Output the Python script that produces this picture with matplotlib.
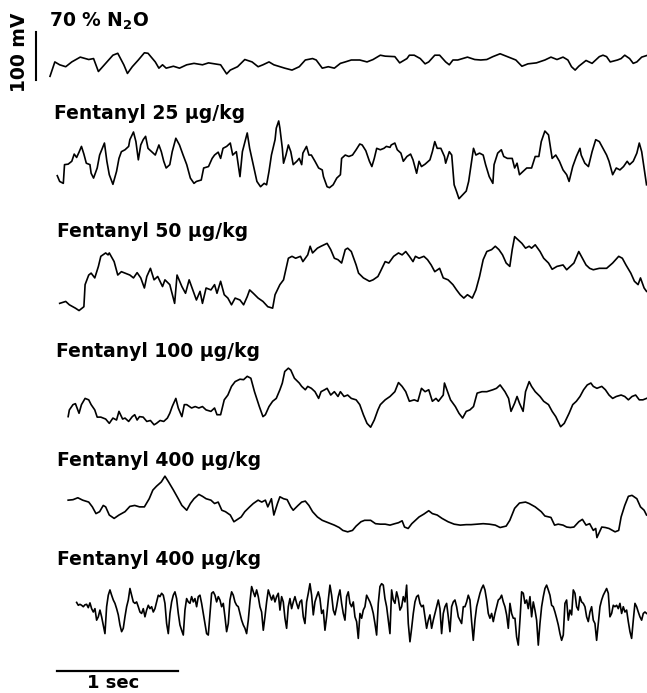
import numpy as np
import matplotlib
matplotlib.use("Agg")
import matplotlib.pyplot as plt

plt.rcParams['font.family'] = 'DejaVu Sans'
plt.rcParams['mathtext.fontset'] = 'dejavusans'

# EEG traces: time in sec, deflection in mV
t_n2o = [0.00, 0.04, 0.08, 0.13, 0.18, 0.25, 0.32, 0.36, 0.40, 0.46,
         0.52, 0.56, 0.61, 0.64, 0.68, 0.73, 0.78, 0.81, 0.87, 0.90,
         0.93, 0.96, 1.02, 1.07, 1.13, 1.19, 1.26, 1.31, 1.36, 1.41,
         1.46, 1.49, 1.55, 1.61, 1.67, 1.72, 1.76, 1.81, 1.85, 1.94,
         2.00, 2.06, 2.11, 2.17, 2.20, 2.25, 2.30, 2.35, 2.40, 2.44,
         2.49, 2.56, 2.62, 2.67, 2.73, 2.77, 2.85, 2.89, 2.95, 2.97,
         3.01, 3.06, 3.10, 3.13, 3.18, 3.22, 3.27, 3.30, 3.33, 3.37,
         3.41, 3.45, 3.51, 3.56, 3.61, 3.66, 3.72, 3.78, 3.85, 3.90,
         3.95, 4.02, 4.09, 4.14, 4.19, 4.24, 4.28, 4.31, 4.34, 4.37,
         4.43, 4.48, 4.54, 4.57, 4.60, 4.63, 4.69, 4.72, 4.75, 4.79,
         4.82, 4.85, 4.89, 4.94]
v_n2o = [-27, 3, -3, -7, 3, 13, 8, 10, -17, 0,
         17, 21, -3, -21, -7, 7, 22, 21, 3, -10,
         -3, -10, -6, -10, -3, 0, -3, 1, -1, -3,
         -22, -14, -7, 8, 3, -7, -3, 3, -3, -10,
         -14, -7, 7, 10, 7, -10, -7, -10, 0, 3,
         7, 7, 3, 8, 17, 15, 14, 1, 10, 17,
         17, 10, -1, 3, 17, 17, 3, -3, 7, 7,
         10, 13, 8, 7, 8, 14, 20, 14, 7, -6,
         -1, 1, 7, 13, 8, 13, 7, -7, -14, -6,
         6, 0, 14, 17, 14, 3, 7, 10, 17, 10,
         0, 3, 13, 17]

t_25 = [0.06, 0.08, 0.11, 0.12, 0.15, 0.18, 0.20, 0.22, 0.24, 0.26,
        0.28, 0.30, 0.33, 0.34, 0.36, 0.39, 0.41, 0.45, 0.47, 0.49,
        0.52, 0.55, 0.57, 0.59, 0.62, 0.65, 0.66, 0.69, 0.71, 0.73,
        0.75, 0.77, 0.79, 0.81, 0.84, 0.87, 0.90, 0.92, 0.94, 0.96,
        0.99, 1.01, 1.04, 1.07, 1.10, 1.13, 1.16, 1.19, 1.21, 1.25,
        1.27, 1.31, 1.34, 1.36, 1.39, 1.41, 1.43, 1.46, 1.49, 1.51,
        1.54, 1.57, 1.59, 1.63, 1.65, 1.68, 1.71, 1.74, 1.77, 1.79,
        1.81, 1.83, 1.86, 1.87, 1.89, 1.90, 1.92, 1.93, 1.95, 1.97,
        1.99, 2.01, 2.04, 2.06, 2.08, 2.09, 2.12, 2.14, 2.16, 2.19,
        2.22, 2.25, 2.26, 2.29, 2.31, 2.34, 2.37,
        2.40, 2.41, 2.44, 2.47, 2.50, 2.53, 2.56, 2.58, 2.61, 2.64,
        2.66, 2.68, 2.70, 2.73, 2.76, 2.78, 2.81, 2.82, 2.85, 2.87,
        2.90, 2.92, 2.95, 2.98, 3.00, 3.03, 3.05, 3.07, 3.10, 3.14,
        3.16, 3.18, 3.20, 3.23, 3.26, 3.27, 3.30, 3.32, 3.34, 3.36,
        3.38, 3.41, 3.44, 3.46, 3.48, 3.50, 3.52, 3.55, 3.58, 3.60,
        3.63, 3.66, 3.67, 3.70, 3.73, 3.75, 3.78, 3.82, 3.84, 3.86,
        3.88, 3.91, 3.94, 3.98, 4.01, 4.04, 4.06, 4.09, 4.12, 4.15,
        4.18, 4.21, 4.24, 4.27, 4.29, 4.32, 4.35, 4.38, 4.39, 4.42,
        4.45, 4.48, 4.51, 4.54, 4.57, 4.60, 4.62, 4.65, 4.68, 4.71,
        4.74, 4.77, 4.79, 4.82, 4.85, 4.87, 4.89, 4.91, 4.93]
v_25 = [-33, -45, -49, -10, -9, -3, 12, 5, 16, 28,
        12, -7, -10, -28, -38, -17, 10, 35, -3, -31,
        -51, -24, 3, 17, 21, 28, 42, 58, 38, 0,
        31, 42, 49, 24, 17, 10, 31, 17, -3, -17,
        -10, 17, 45, 31, 10, -10, -38, -49, -45, -42,
        -17, -14, 3, 10, 16, 3, 24, 28, 35, 10,
        17, -35, 17, 56, 24, -10, -45, -56, -49, -52,
        -24, 10, 42, 66, 81, 66, 24, -7, 10, 31,
        17, -10, -3, 3, -10, 14, 28, 10, 10, -3,
        -17, -21, -35, -56, -58, -52, -38,
        -31, 3, 10, 7, 10, 21, 33, 31, 19, -3,
        -14, 3, 24, 21, 24, 28, 26, 31, 35, 21,
        14, -3, 7, 12, 0, -28, -3, -14, -9, 0,
        17, 38, 24, 24, 7, -7, 17, 10, -52, -66,
        -81, -73, -65, -45, -10, 24, 10, 14, 10, -10,
        -35, -49, -10, 14, 21, 7, 3, 3, -17, -7,
        -31, -24, -17, -17, 7, 7, 38, 60, 52, 3,
        10, -3, -21, -31, -45, -14, 7, 24, 10, -7,
        -14, 17, 42, 38, 24, 10, -3, -31, -17, -21,
        -14, -3, -10, -3, 14, 35, 17, -17, -52]

t_50 = [0.08, 0.13, 0.16, 0.21, 0.24, 0.28, 0.29, 0.32, 0.34, 0.37,
        0.40, 0.42, 0.46, 0.48, 0.49, 0.53, 0.56, 0.59, 0.62, 0.66,
        0.69, 0.72, 0.75, 0.78, 0.80, 0.83, 0.86, 0.89, 0.93, 0.95,
        0.99, 1.03, 1.05, 1.09, 1.12, 1.15, 1.18, 1.21, 1.24, 1.26,
        1.29, 1.33, 1.36, 1.38, 1.41, 1.44, 1.47, 1.50, 1.53, 1.57,
        1.60, 1.63, 1.65, 1.68, 1.72, 1.76, 1.80, 1.84, 1.86, 1.90,
        1.93, 1.97, 2.00, 2.03, 2.07, 2.09, 2.13, 2.15, 2.17, 2.21,
        2.24, 2.29, 2.32, 2.35, 2.38, 2.41, 2.44, 2.46, 2.49, 2.53,
        2.55, 2.59, 2.64, 2.67, 2.71, 2.73, 2.77, 2.80, 2.84, 2.88,
        2.91, 2.94, 2.97, 3.00, 3.02, 3.05, 3.09, 3.12, 3.15, 3.18,
        3.22, 3.25, 3.29, 3.33, 3.36, 3.39, 3.42, 3.45, 3.49, 3.52,
        3.55, 3.58, 3.61, 3.65, 3.68, 3.71, 3.74, 3.77, 3.80, 3.82,
        3.84, 3.87, 3.90, 3.93, 3.96, 3.98, 4.01, 4.05, 4.08, 4.12,
        4.15, 4.19, 4.24, 4.27, 4.30, 4.33, 4.37, 4.40, 4.43, 4.46,
        4.49, 4.54, 4.60, 4.65, 4.70, 4.73, 4.76, 4.80, 4.83, 4.86,
        4.88, 4.91, 4.93]
v_50 = [-56, -52, -59, -66, -71, -63, -17, 3, 7, -3,
        21, 42, 49, 45, 49, 31, 3, 10, 7, 3,
        -3, 8, -3, -24, 0, 17, -7, 0, -21, -7,
        -17, -56, 3, -21, -35, -7, -28, -49, -31, -56,
        -24, -28, -17, -35, -10, -38, -45, -59, -45, -49,
        -59, -42, -28, -35, -45, -52, -63, -66, -38, -17,
        -7, 38, 42, 38, 42, 31, 45, 63, 49, 59,
        63, 69, 56, 38, 35, 28, 56, 59, 52, 24,
        7, -3, -10, -7, 0, 10, 31, 28, 42, 49,
        45, 52, 42, 31, 42, 38, 42, 35, 24, 10,
        17, -3, -7, -17, -28, -38, -45, -38, -45, -28,
        0, 35, 52, 56, 63, 56, 45, 28, 21, 56,
        83, 76, 69, 59, 63, 59, 66, 52, 38, 28,
        15, 21, 24, 14, 21, 28, 52, 38, 24, 17,
        14, 17, 17, 28, 42, 38, 24, 7, -10, -17,
        -3, -24, -31]

t_100 = [0.15, 0.16, 0.19, 0.21, 0.24, 0.26, 0.29, 0.32, 0.34, 0.37,
         0.39, 0.42, 0.46, 0.49, 0.52, 0.55, 0.57, 0.60, 0.62, 0.65,
         0.68, 0.70, 0.72, 0.74, 0.77, 0.80, 0.83, 0.86, 0.88, 0.91,
         0.94, 0.97, 0.99, 1.01, 1.04, 1.06, 1.09, 1.11, 1.13, 1.17,
         1.20, 1.23, 1.26, 1.29, 1.33, 1.36, 1.38, 1.41, 1.44, 1.47,
         1.50, 1.53, 1.57, 1.60, 1.63, 1.66, 1.69, 1.73, 1.76, 1.78,
         1.81, 1.84, 1.87, 1.90, 1.92, 1.94, 1.97, 1.99, 2.02, 2.06,
         2.08, 2.11, 2.13, 2.16, 2.19, 2.22, 2.24, 2.27, 2.29, 2.32,
         2.35, 2.38, 2.40, 2.43, 2.46, 2.49, 2.53, 2.56, 2.59, 2.62,
         2.65, 2.68, 2.71, 2.73, 2.77, 2.81, 2.85, 2.88, 2.91, 2.94,
         2.97, 3.01, 3.04, 3.07, 3.10, 3.13, 3.16, 3.19, 3.21, 3.25,
         3.26, 3.28, 3.31, 3.35, 3.38, 3.41, 3.44, 3.47, 3.50, 3.53,
         3.57, 3.61, 3.66, 3.69, 3.72, 3.76, 3.79, 3.81, 3.84, 3.86,
         3.88, 3.91, 3.93, 3.96, 3.98, 4.01, 4.05, 4.08, 4.12, 4.15,
         4.18, 4.22, 4.25, 4.29, 4.32, 4.35, 4.38, 4.41, 4.44, 4.47,
         4.49, 4.52, 4.56, 4.59, 4.62, 4.65, 4.68, 4.72, 4.75, 4.78,
         4.81, 4.84, 4.87, 4.90, 4.93]
v_100 = [-35, -21, -10, -8, -28, -10, 3, 0, -10, -21,
         -36, -36, -40, -49, -38, -42, -24, -40, -38, -45,
         -35, -31, -42, -35, -36, -45, -43, -52, -49, -43,
         -45, -38, -28, -14, 3, -17, -35, -10, -10, -17,
         -14, -17, -14, -21, -24, -17, -31, -31, 0, 10,
         28, 38, 43, 42, 49, 45, 17, -14, -35, -31,
         -14, -3, 3, 21, 35, 59, 66, 62, 45, 35,
         28, 21, 28, 24, 17, 3, 17, 21, 24, 10,
         17, 7, 17, 7, 10, 3, 0, -10, -31, -49,
         -57, -42, -21, -10, 0, 7, 17, 36, 28, 17,
         -3, 0, -3, 24, 17, 21, -3, 3, -3, 10,
         35, 21, 0, -14, -28, -38, -24, -21, -14, 14,
         17, 17, 21, 24, 31, 17, 3, -24, -7, 7,
         -7, -24, 17, 38, 28, 17, 7, -3, -10, -24,
         -35, -56, -49, -28, -10, -3, 7, 21, 31, 35,
         28, 24, 28, 21, 10, 3, 7, 10, 7, 0,
         7, 10, 0, 0, 3]

t_400a = [0.15, 0.19, 0.23, 0.27, 0.32, 0.35, 0.38, 0.41, 0.44, 0.46,
          0.49, 0.53, 0.57, 0.62, 0.66, 0.70, 0.74, 0.78, 0.82, 0.85,
          0.88, 0.92, 0.95, 0.98, 1.02, 1.06, 1.09, 1.13, 1.16, 1.19,
          1.23, 1.26, 1.29, 1.33, 1.36, 1.39, 1.42, 1.45, 1.49, 1.52,
          1.55, 1.58, 1.61, 1.65, 1.68, 1.72, 1.75, 1.78, 1.80, 1.83,
          1.85, 1.88, 1.90, 1.93, 1.96, 1.99, 2.01, 2.05, 2.08, 2.11,
          2.14, 2.17, 2.21, 2.25, 2.30, 2.35, 2.39, 2.42, 2.46, 2.50,
          2.53, 2.57, 2.60, 2.65, 2.69, 2.73, 2.77, 2.81, 2.85, 2.88,
          2.91, 2.93, 2.96, 2.99, 3.02, 3.05, 3.09, 3.13, 3.16, 3.20,
          3.24, 3.29, 3.34, 3.39, 3.44, 3.48, 3.53, 3.58, 3.63, 3.68,
          3.72, 3.77, 3.80, 3.84, 3.88, 3.93, 3.96, 4.01, 4.06, 4.09,
          4.14, 4.17, 4.20, 4.24, 4.27, 4.30, 4.33, 4.37, 4.40, 4.43,
          4.46, 4.49, 4.51, 4.52, 4.56, 4.59, 4.62, 4.67, 4.70, 4.72,
          4.75, 4.78, 4.81, 4.85, 4.88, 4.91, 4.93]
v_400a = [14, 15, 19, 14, 10, 0, -14, -10, 3, 0,
          -17, -24, -17, -10, 1, 3, 0, 0, 17, 35,
          43, 52, 64, 52, 35, 17, 3, -7, 7, 17,
          26, 22, 17, 14, 7, 10, -7, -10, -17, -31,
          -26, -21, -10, 0, 7, 14, 10, 14, 0, 17,
          -17, 7, 21, 17, 15, 0, -7, 3, 10, 12,
          3, -10, -21, -28, -33, -38, -43, -49, -52, -49,
          -40, -31, -28, -28, -35, -36, -36, -38, -35, -33,
          -29, -42, -45, -35, -28, -21, -15, -8, -14, -17,
          -24, -31, -36, -38, -37, -37, -36, -35, -36, -38,
          -43, -40, -28, -3, 8, 10, 7, 0, -10, -19,
          -22, -38, -36, -38, -42, -43, -42, -31, -26, -38,
          -35, -49, -45, -64, -42, -43, -45, -52, -49, -21,
          3, 22, 24, 17, 0, -7, -17]

# second 400 ug/kg trace, sampled evenly from its first point
t0_400b = 0.22
fs_400b = 72.6  # samples per sec
v_400b = [23, 17, 19, 17, 14, 18, 19, 12, 22, 10,
          3, 10, -14, -7, 7, -7, -24, -42, 14, 38,
          49, 38, 28, 21, 10, -3, -24, -38, -31, -7,
          14, 28, 52, 38, 24, 21, 24, 14, 3, 0,
          10, -7, 7, 17, 10, 14, 3, 10, 24, 38,
          35, 42, 38, 21, -21, -42, 0, 24, 38, 45,
          31, 0, -24, -35, -45, 7, 31, 24, 21, 35,
          24, 31, 14, 35, 38, 21, 0, -21, -42, -45,
          0, 42, 45, 38, 24, 35, 28, 14, 21, -7,
          -38, -21, 28, 45, 38, 24, 17, 14, 0, -14,
          -24, -31, -42, -14, 24, 56, 45, 35, 49, 35,
          14, 3, -35, -7, 24, 49, 38, 28, 38, 24,
          35, 42, 7, 35, 24, -10, -31, 14, 31, 10,
          24, 35, 21, 10, 24, 28, -7, -21, 24, 42,
          62, 38, -3, 24, 35, 45, 31, 0, 7, -35,
          -7, 28, 59, 38, 7, -3, 14, 35, 49, 21,
          0, -14, 35, 45, 21,
          14, 24, -7, -17, -52, 0, -10, 7, 14, 38,
          31, 24, 14, 0, -21, -45, 21, 56, 62, 59,
          31, 14, -14, -42, 49, 28, 21, 45, 31, 7,
          14, 35, 24, 59, -21, -59, -31, 0, 24, 35,
          38, 21, 14, 17, -7, -31, -14, -3, -31, -14,
          0, 14, 28, 10, -42, 0, 14, 21, -7, -38,
          14, 24, 28, 14, -7, -14, -21, 14, 14, 24,
          38, 28, -17, -56, -14, 14, 28, 42, 52, 59,
          49, 28, 0, -10, 0, -17, 0, 14, 28, 31,
          38, 24, 14, -3, -31, 21, 0, -10, -10, -49,
          -66, -14, 45, 42, 21, 28, 10, 35, -7, 24,
          7, -14, -66, -21, 14, 35, 52, 59, 49, 38,
          17, 14, 3, -10, -24, -42, -56, -45, 21, 28,
          -14, 7, -3, 49, 42, 14, 7, 35, 24, 21,
          14, -7, -17, 3, 14, -14, -21, -56, -21, 14,
          28, 38, 45, 52, 42, -7, 0, 17, 14, 17,
          10, 21, 0, 14, 3, 7, -17, -38, -52, -14,
          21, 14, 3, -7, -14, 0, 3, 0]
t_400b = t0_400b + np.arange(len(v_400b)) / fs_400b

labels = ["70 % N$_\\mathbf{2}$O", "Fentanyl 25 µg/kg", "Fentanyl 50 µg/kg",
          "Fentanyl 100 µg/kg", "Fentanyl 400 µg/kg", "Fentanyl 400 µg/kg"]

traces = [(t_n2o, v_n2o), (t_25, v_25), (t_50, v_50),
          (t_100, v_100), (t_400a, v_400a), (t_400b, v_400b)]

# layout (mV / sec on the page)
MV_PER_PX = 100 / 48
PX_PER_SEC = 121
row_offset = [-132, -333, -576, -833, -1056, -1278]
label_y = [-56, -248, -494, -744, -971, -1177]
label_x = [-0.01, 0.03, 0.06, 0.05, 0.06, 0.06]

fig = plt.figure(figsize=(6.47, 6.93), dpi=100)
ax = fig.add_axes([0, 0, 1, 1])
ax.set_xlim(-50 / PX_PER_SEC, 597 / PX_PER_SEC)
ax.set_ylim(-693 * MV_PER_PX, 0)
ax.axis('off')

for (t, v), off in zip(traces, row_offset):
    ax.plot(t, np.array(v) + off, color='black', lw=1.2, solid_joinstyle='round')

for lab, x, y in zip(labels, label_x, label_y):
    ax.text(x, y, lab, fontsize=13.5, fontweight='bold', ha='left', va='baseline')

# calibration bars
ax.plot([-0.116, -0.116], [-67, -167], color='black', lw=1.5)
ax.text(-0.25, -110, "100 mV", rotation=90, fontsize=13.5, fontweight='bold',
        ha='center', va='center')
ax.plot([0.058, 1.058], [-1398, -1398], color='black', lw=1.6)
ax.text(0.52, -1434, "1 sec", fontsize=13, fontweight='bold', ha='center', va='baseline')

fig.savefig('out.png', dpi=100)
